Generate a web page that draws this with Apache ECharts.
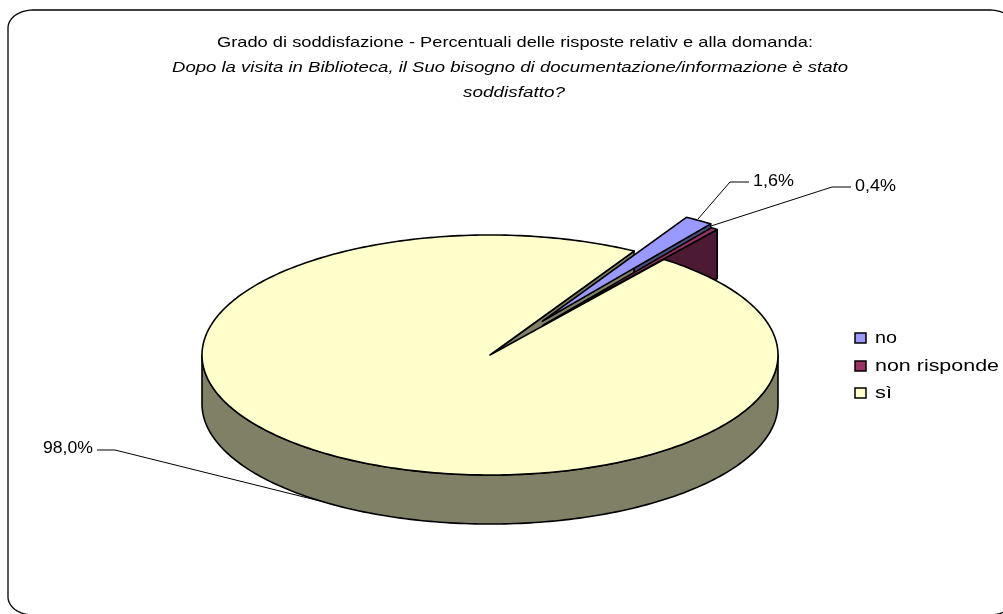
<!DOCTYPE html>
<html>
<head>
<meta charset="utf-8">
<style>html,body{margin:0;padding:0;background:#fff}#c{width:1003px;height:614px}</style>
<script src="https://cdn.jsdelivr.net/npm/echarts@6/dist/echarts.min.js"></script>
</head>
<body>
<div id="c"></div>
<script>
const categories = ['no', 'non risponde', 'sì'];
const values = [1.6, 0.4, 98.0];
const topColors = ['#9999FF', '#993366', '#FFFFCC'];
const sideColors = ['#4D4D80', '#4D1A33', '#808066'];
const exploded = [0.335, 0.31, 0];
const valueLabels = ['1,6%', '0,4%', '98,0%'];
const titleLines = [
  'Grado di soddisfazione - Percentuali delle risposte relativ e alla domanda:',
  'Dopo la visita in Biblioteca, il Suo bisogno di documentazione/informazione è stato',
  'soddisfatto?'
];

const FONT = '"Liberation Sans", Arial, sans-serif';
const CX = 490, CY = 355, RX = 288, RY = 120, DEPTH = 49, START = 60;
const LW = 1.6;

const total = values.reduce((a, b) => a + b, 0);
const slices = [];
(function () {
  let a = START;
  values.forEach((v, i) => {
    const sweep = v / total * 360;
    const mid = (a - sweep / 2) * Math.PI / 180;
    slices.push({
      from: a, to: a - sweep,
      ox: RX * Math.cos(mid) * exploded[i],
      oy: -RY * Math.sin(mid) * exploded[i]
    });
    a -= sweep;
  });
})();

function rim(s, deg, drop) {
  const t = deg * Math.PI / 180;
  return [CX + s.ox + RX * Math.cos(t), CY + s.oy - RY * Math.sin(t) + (drop || 0)];
}
function arc(s, a, b, drop) {
  const n = Math.max(2, Math.ceil(Math.abs(b - a)));
  const pts = [];
  for (let k = 0; k <= n; k++) pts.push(rim(s, a + (b - a) * k / n, drop));
  return pts;
}
function poly(points, fill) {
  return { type: 'polygon', shape: { points }, style: { fill, stroke: '#000', lineWidth: LW, lineJoin: 'round' } };
}
function topFace(i) {
  const s = slices[i];
  return poly([[CX + s.ox, CY + s.oy]].concat(arc(s, s.from, s.to)), topColors[i]);
}
function cutFaceAt(i, deg) {
  const s = slices[i];
  const e = rim(s, deg);
  return poly([[CX + s.ox, CY + s.oy], e, [e[0], e[1] + DEPTH], [CX + s.ox, CY + s.oy + DEPTH]], sideColors[i]);
}
function cutFace(i) { return cutFaceAt(i, slices[i].to); }
function wallFace(i) {
  const s = slices[i];
  return poly(arc(s, 180, 360).concat(arc(s, 360, 180, DEPTH)), sideColors[i]);
}
function startCutFace(i) { return cutFaceAt(i, START); }

// draw order, back to front
const layers = [
  { cat: 0, parts: [cutFace] },
  { cat: 1, parts: [cutFace] },
  { cat: 2, parts: [startCutFace, wallFace, topFace] },
  { cat: 0, parts: [topFace] },
  { cat: 1, parts: [topFace] }
];

const measureCtx = document.createElement('canvas').getContext('2d');
function fitted(text, font, left, right, y) {
  measureCtx.font = font;
  const w = measureCtx.measureText(text).width;
  return {
    type: 'text', x: left, y, scaleX: (right - left) / w, silent: true,
    style: { text, font, fill: '#000', align: 'left', verticalAlign: 'middle' }
  };
}

const leaders = [
  { pts: [[698, 219], [730, 182], [749, 182]], box: [753, 794, 182] },
  { pts: [[711, 226], [832, 187], [851, 187]], box: [855, 896, 187] },
  { pts: [[97, 450], [115, 450], [324, 502]], box: [43, 93, 449] }
];

const titleBoxes = [[217, 813, 43], [172, 848, 68], [463, 565, 93]];
const titleFonts = ['15px ' + FONT, 'italic 15px ' + FONT, 'italic 15px ' + FONT];

const legendRows = [338, 366, 393];

function frame() {
  const L = 8, T = 10, R = 1015, B = 615, rx = 25, ry = 18;
  const pts = [];
  const corner = (cx, cy, a0) => {
    for (let k = 0; k <= 16; k++) {
      const t = (a0 + 90 * k / 16) * Math.PI / 180;
      pts.push([cx + rx * Math.cos(t), cy + ry * Math.sin(t)]);
    }
  };
  corner(L + rx, T + ry, 180); corner(R - rx, T + ry, 270);
  corner(R - rx, B - ry, 0); corner(L + rx, B - ry, 90);
  return { type: 'polygon', silent: true, z: -1, shape: { points: pts }, style: { fill: '#fff', stroke: '#000', lineWidth: 1.3 } };
}

const graphicEls = [frame()];
titleLines.forEach((t, i) => {
  const b = titleBoxes[i];
  graphicEls.push(fitted(t, titleFonts[i], b[0], b[1], b[2]));
});
categories.forEach((name, i) => {
  const y = legendRows[i];
  graphicEls.push({ type: 'rect', silent: true, shape: { x: 855, y: y - 5, width: 11, height: 10 },
    style: { fill: topColors[i], stroke: '#000', lineWidth: 1.5 } });
  graphicEls.push(fitted(name, '17px ' + FONT, 875, 875 + [22, 124, 17][i], y));
});

const chart = echarts.init(document.getElementById('c'));
chart.setOption({
  animation: false,
  backgroundColor: '#fff',
  graphic: { elements: graphicEls },
  series: [
    {
      type: 'custom', name: 'torta', coordinateSystem: 'none', silent: true, z: 2,
      data: layers.map(l => [values[l.cat]]),
      renderItem: (p) => {
        const l = layers[p.dataIndex];
        return { type: 'group', children: l.parts.map(f => f(l.cat)) };
      }
    },
    {
      type: 'custom', name: 'etichette', coordinateSystem: 'none', silent: true, z: 3,
      data: values.map(v => [v]),
      renderItem: (p) => {
        const d = leaders[p.dataIndex];
        return { type: 'group', children: [
          { type: 'polyline', shape: { points: d.pts }, style: { fill: 'none', stroke: '#000', lineWidth: 1 } },
          fitted(valueLabels[p.dataIndex], '16px ' + FONT, d.box[0], d.box[1], d.box[2])
        ] };
      }
    }
  ]
});
</script>
</body>
</html>
